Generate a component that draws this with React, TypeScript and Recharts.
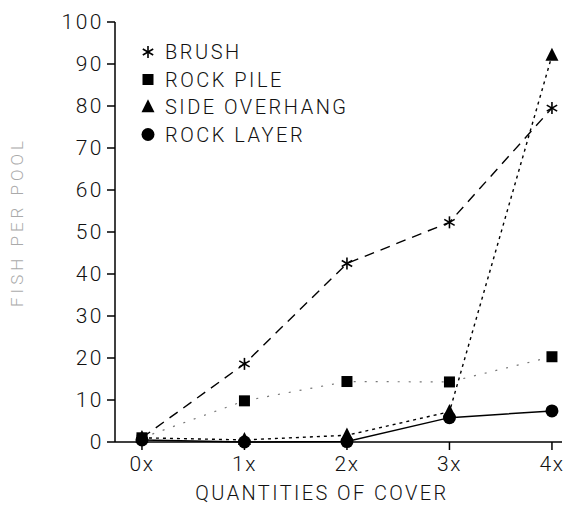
import React from "react";
import { LineChart, Line, XAxis, YAxis } from "recharts";

const categories = ["0x", "1x", "2x", "3x", "4x"];
const brush = [1, 18.6, 42.5, 52.3, 79.5];
const rockPile = [1, 9.8, 14.4, 14.3, 20.3];
const sideOverhang = [1, 0.5, 1.6, 7.2, 92.0];
const rockLayer = [0.5, 0, 0.1, 5.8, 7.4];
const yTicks = [0, 10, 20, 30, 40, 50, 60, 70, 80, 90, 100];

const data = categories.map((c, i) => ({
  x: i,
  label: c,
  brush: brush[i],
  rockPile: rockPile[i],
  sideOverhang: sideOverhang[i],
  rockLayer: rockLayer[i],
}));

const FONT = "Roboto, 'DejaVu Sans', sans-serif";

const Asterisk = ({ cx, cy, r = 6 }: any) => {
  const lines = [0, 60, 120].map((a) => {
    const rad = (a * Math.PI) / 180;
    const dx = Math.sin(rad) * r;
    const dy = Math.cos(rad) * r;
    return <line key={a} x1={cx - dx} y1={cy - dy} x2={cx + dx} y2={cy + dy} stroke="#000" strokeWidth={1.6} />;
  });
  return <g>{lines}</g>;
};
const Square = ({ cx, cy, s = 11 }: any) => <rect x={cx - s / 2} y={cy - s / 2} width={s} height={s} fill="#000" />;
const Triangle = ({ cx, cy, s = 13 }: any) => (
  <polygon points={`${cx},${cy - s * 0.6} ${cx - s / 2},${cy + s * 0.4} ${cx + s / 2},${cy + s * 0.4}`} fill="#000" />
);
const Circle = ({ cx, cy, r = 6.5 }: any) => <circle cx={cx} cy={cy} r={r} fill="#000" />;

const legendItems = [
  { name: "BRUSH", M: Asterisk },
  { name: "ROCK PILE", M: Square },
  { name: "SIDE OVERHANG", M: Triangle },
  { name: "ROCK LAYER", M: Circle },
];

const Overlay = () => (
  <svg width={567} height={508} style={{ position: "absolute", left: 0, top: 0, pointerEvents: "none" }}>
    {legendItems.map((it, i) => {
      const y = 52 + i * 27.5;
      const M = it.M;
      return (
        <g key={it.name}>
          <M cx={148} cy={y} />
          <text x={165} y={y} dy="0.35em" fontFamily={FONT} fontWeight={300} fontSize={20} letterSpacing={2.5} fill="#111">
            {it.name}
          </text>
        </g>
      );
    })}
    <text
      x={17}
      y={222}
      transform="rotate(-90 17 222)"
      textAnchor="middle"
      dominantBaseline="central"
      fontFamily={FONT}
      fontWeight={300}
      fontSize={17}
      letterSpacing={4}
      fill="#aaa"
    >
      FISH PER POOL
    </text>
    <text
      x={322}
      y={493}
      textAnchor="middle"
      dominantBaseline="central"
      fontFamily={FONT}
      fontWeight={300}
      fontSize={20}
      letterSpacing={2.4}
      fill="#111"
    >
      QUANTITIES OF COVER
    </text>
  </svg>
);

const mkDot = (M: any) => (p: any) => <M key={p.index} cx={p.cx} cy={p.cy} />;

export default function App() {
  return (
    <div style={{ width: 567, height: 508, position: "relative", background: "#fff" }}>
      <style>{`body{margin:0;background:#fff}`}</style>
      <LineChart width={567} height={508} data={data} margin={{ top: 22, right: 5, bottom: 0, left: 0 }}>
        <XAxis
          dataKey="x"
          type="number"
          domain={[-0.263, 4.098]}
          ticks={[0, 1, 2, 3, 4]}
          tickFormatter={(v: number) => categories[v]}
          height={66}
          stroke="#000"
          strokeWidth={1.5}
          tickSize={8}
          tickMargin={6}
          tick={{ fill: "#111", fontSize: 21, fontFamily: FONT, fontWeight: 300, letterSpacing: 1.5 }}
        />
        <YAxis
          type="number"
          domain={[0, 100]}
          ticks={yTicks}
          width={115}
          stroke="#000"
          strokeWidth={1.5}
          tickSize={8}
          tickMargin={3}
          tick={{ fill: "#111", fontSize: 21, fontFamily: FONT, fontWeight: 300, letterSpacing: 2.5 }}
        />
        <Line dataKey="rockPile" stroke="#777" strokeWidth={1.2} strokeDasharray="2 9" dot={mkDot(Square)} isAnimationActive={false} />
        <Line dataKey="brush" stroke="#000" strokeWidth={1.4} strokeDasharray="10 7" dot={mkDot(Asterisk)} isAnimationActive={false} />
        <Line dataKey="sideOverhang" stroke="#000" strokeWidth={1.4} strokeDasharray="3 4" dot={mkDot(Triangle)} isAnimationActive={false} />
        <Line dataKey="rockLayer" stroke="#000" strokeWidth={1.5} dot={mkDot(Circle)} isAnimationActive={false} />
      </LineChart>
      <Overlay />
    </div>
  );
}
